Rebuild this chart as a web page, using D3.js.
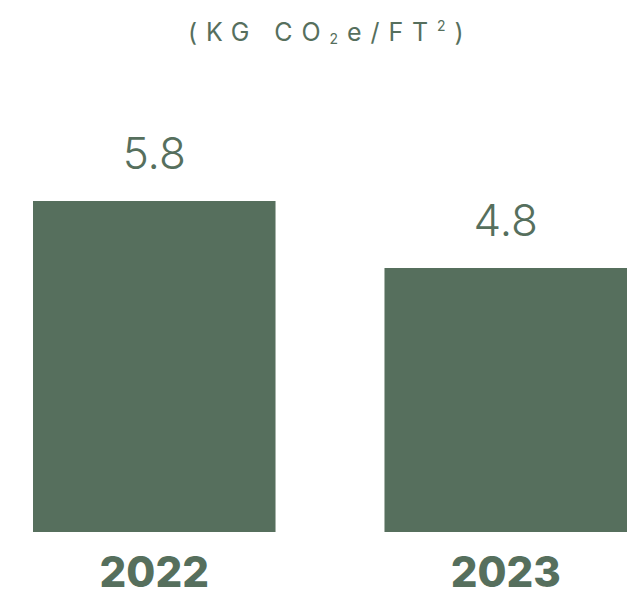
<!DOCTYPE html>
<html>
<head>
<meta charset="utf-8">
<script src="https://cdn.jsdelivr.net/npm/d3@7"></script>
<style>
  html, body { margin: 0; padding: 0; background: #ffffff; }
  svg { display: block; }
  text { font-family: Inter, "Noto Sans", sans-serif; fill: #566f5d; }
</style>
</head>
<body>
<svg id="chart" width="627" height="597"></svg>
<script>
// Carbon intensity per square foot, by year
const years = ["2022", "2023"];
const intensity = [5.8, 4.8];
const valueLabels = ["5.8", "4.8"];

const W = 627, H = 597;
const barColor = "#566f5d";
const svg = d3.select("#chart");

const x = d3.scaleBand()
  .domain(years)
  .range([33, 627])
  .paddingInner(0.31)
  .paddingOuter(0);

const y = d3.scaleLinear()
  .domain([0.86, 5.8])
  .range([532, 201]);

// Unit title with subscript / superscript 2
const title = svg.append("text")
  .attr("x", 188)
  .attr("y", 41)
  .attr("font-size", 25)
  .attr("font-weight", 400)
  .attr("letter-spacing", "8.9px");
title.append("tspan").text("(KG CO");
title.append("tspan").attr("font-size", 14).attr("dy", 3).text("2");
title.append("tspan").attr("dy", -3).text("e/FT");
title.append("tspan").attr("font-size", 14).attr("dy", -10).text("2");
title.append("tspan").attr("dy", 10).text(")");

// Bars
svg.selectAll("rect.bar")
  .data(years)
  .join("rect")
  .attr("class", "bar")
  .attr("x", d => x(d))
  .attr("width", x.bandwidth())
  .attr("y", (d, i) => y(intensity[i]))
  .attr("height", (d, i) => y.range()[0] - y(intensity[i]))
  .attr("fill", barColor);

// Value labels above bars
svg.selectAll("text.value")
  .data(years)
  .join("text")
  .attr("class", "value")
  .attr("x", d => x(d) + x.bandwidth() / 2)
  .attr("y", (d, i) => y(intensity[i]) - 32)
  .attr("text-anchor", "middle")
  .attr("font-size", 44)
  .attr("font-weight", 300)
  .text((d, i) => valueLabels[i]);

// Year labels under bars
svg.selectAll("text.year")
  .data(years)
  .join("text")
  .attr("class", "year")
  .attr("x", d => x(d) + x.bandwidth() / 2)
  .attr("y", 587)
  .attr("text-anchor", "middle")
  .attr("font-size", 42)
  .attr("font-weight", 800)
  .text(d => d);
</script>
</body>
</html>
